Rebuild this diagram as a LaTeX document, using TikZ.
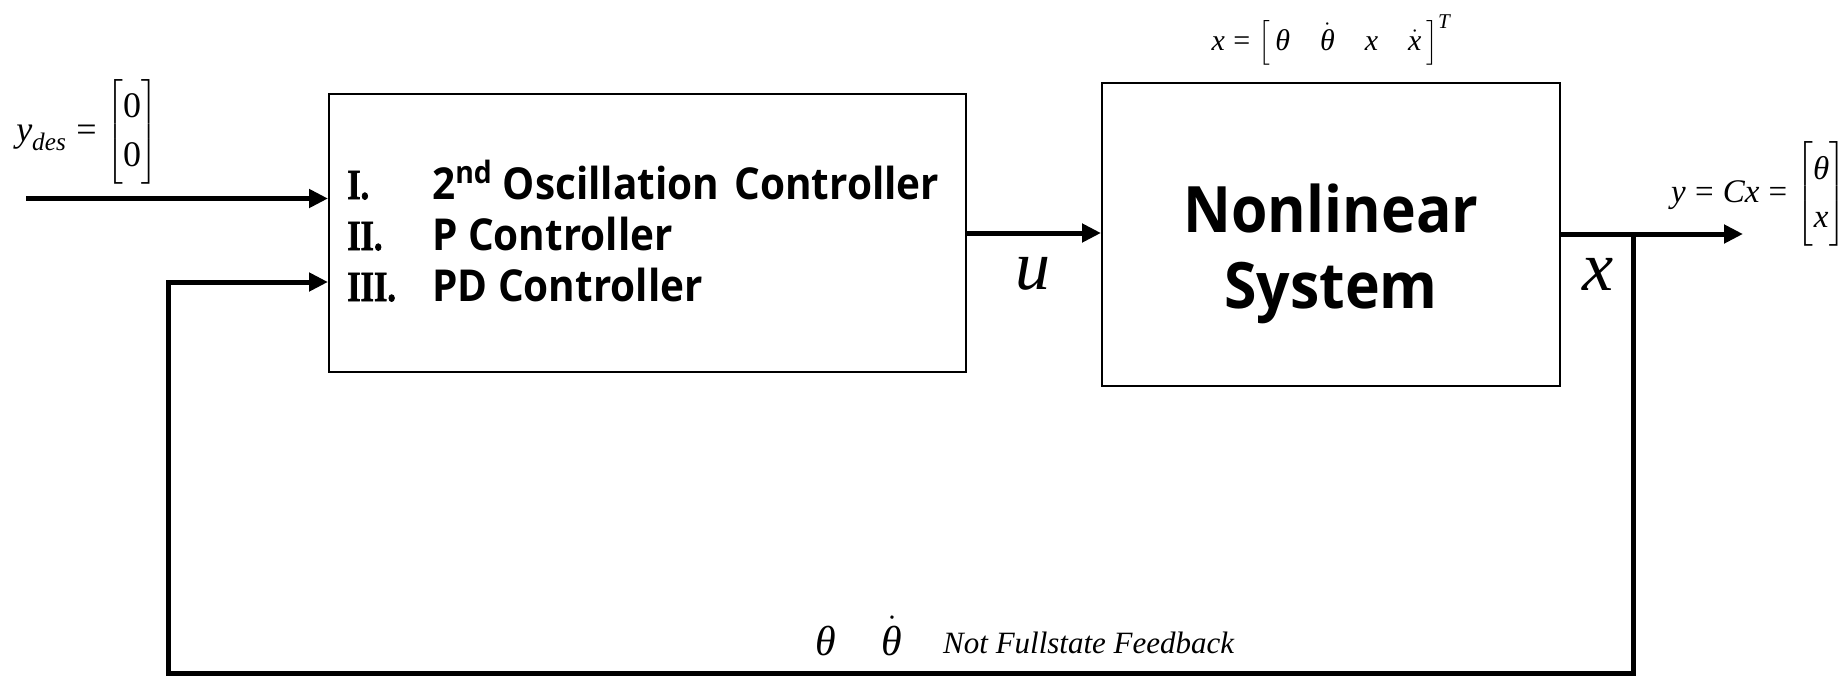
\RequirePackage{fix-cm}
\documentclass[tikz,border=0pt]{standalone}
\usepackage{amsmath}
\usepackage{fontspec}
\setmainfont{Liberation Serif}
\newfontfamily\blockfont[FakeStretch=0.92]{Open Sans}
\newfontfamily\numfont[FakeStretch=0.8, FakeBold=1.6]{Liberation Serif Bold}
\usetikzlibrary{arrows.meta}
% formula pieces set from the text font
\newcommand{\mv}[1]{\textit{#1}}
\newcommand{\mn}[1]{\textup{#1}}
\newcommand{\eqs}{\mathrel{\textup{=}}}

\begin{document}
\begin{tikzpicture}[x=1pt,y=-1pt,
  blockbox/.style={draw, line width=2pt, inner sep=0pt},
  sig/.style={line width=5pt, line join=miter, -{Triangle[length=19pt,width=18pt]}},
  lbl/.style={inner sep=0pt},
  roman/.style={lbl, anchor=base west, font=\numfont\fontsize{43}{43}\selectfont},
  ctrltext/.style={lbl, anchor=base west, font=\blockfont\bfseries\fontsize{44}{44}\selectfont},
  planttext/.style={lbl, anchor=base, font=\blockfont\bfseries\fontsize{64}{64}\selectfont}]
\useasboundingbox (0,0) rectangle (1847,675);

% blocks
\node[blockbox, minimum width=637pt, minimum height=278pt] (ctrl) at (647.5,233) {};
\node[blockbox, minimum width=458pt, minimum height=303pt] (plant) at (1331,234) {};

% controller list
\node[roman] (r1) at (347,199) {I.};
\node[roman] (r2) at (347,250) {II.};
\node[roman] (r3) at (347,301) {III.};
\node[ctrltext] (c1) at (432,199) {2\textsuperscript{nd} Oscillation\hspace{0.35em}Controller};
\node[ctrltext] (c2) at (432,250) {P Controller};
\node[ctrltext] (c3) at (432,301) {PD Controller};

% plant title
\node[planttext] (p1) at (1331,232) {Nonlinear};
\node[planttext] (p2) at (1331,308) {System};

% signal labels
\node[lbl, anchor=east, font=\fontsize{36}{43}\selectfont] (ydes) at (158,132)
  {\renewcommand\arraystretch{1.16}$\mv{y}_{\mv{des}}\eqs\begin{bmatrix}\mn{0}\\\mn{0}\end{bmatrix}$};
\node[lbl, font=\fontsize{30}{36}\selectfont] (xvec) at (1331,40)
  {$\mv{x}\eqs\left[\,\mv{θ}\quad\dot{\mv{θ}}\quad \mv{x}\quad\dot{\mv{x}}\,\right]^{\mv{T}}$};
\node[lbl, anchor=east, font=\fontsize{33}{38}\selectfont] (yout) at (1846,194)
  {\renewcommand\arraystretch{1.25}$\mv{y}\eqs\mv{Cx}\eqs\begin{bmatrix}\mv{θ}\\\mv{x}\end{bmatrix}$};
\node[lbl, font=\fontsize{70}{70}\selectfont] (ulbl) at (1033,274) {\mv{u}};
\node[lbl, font=\fontsize{70}{70}\selectfont] (xlbl) at (1598,274.5) {\mv{x}};
\node[lbl, anchor=base, font=\fontsize{42}{42}\selectfont] (th) at (825.5,655) {$\mv{θ}$};
\node[lbl, anchor=base, font=\fontsize{42}{42}\selectfont] (thd) at (892,655) {$\dot{\mv{θ}}$};
\node[lbl, anchor=base west, font=\itshape\fontsize{31}{31}\selectfont] (nfs) at (943,653) {Not Fullstate Feedback};

% connectors
\coordinate (in) at (26,198.5);
\coordinate (out) at (1743,234);
\coordinate (tap) at (1633,234);
\coordinate (fbBR) at (1633,673);
\coordinate (fbBL) at (168,673);
\coordinate (fbTL) at (168,282);

\draw[sig] (in) -- (in -| ctrl.west);
\draw[sig] (ctrl.east) -- (ctrl.east -| plant.west);
\draw[sig] (plant.east) -- (out);
\draw[sig] (tap) -- (fbBR) -- (fbBL) -- (fbTL) -- (fbTL -| ctrl.west);
\end{tikzpicture}
\end{document}
